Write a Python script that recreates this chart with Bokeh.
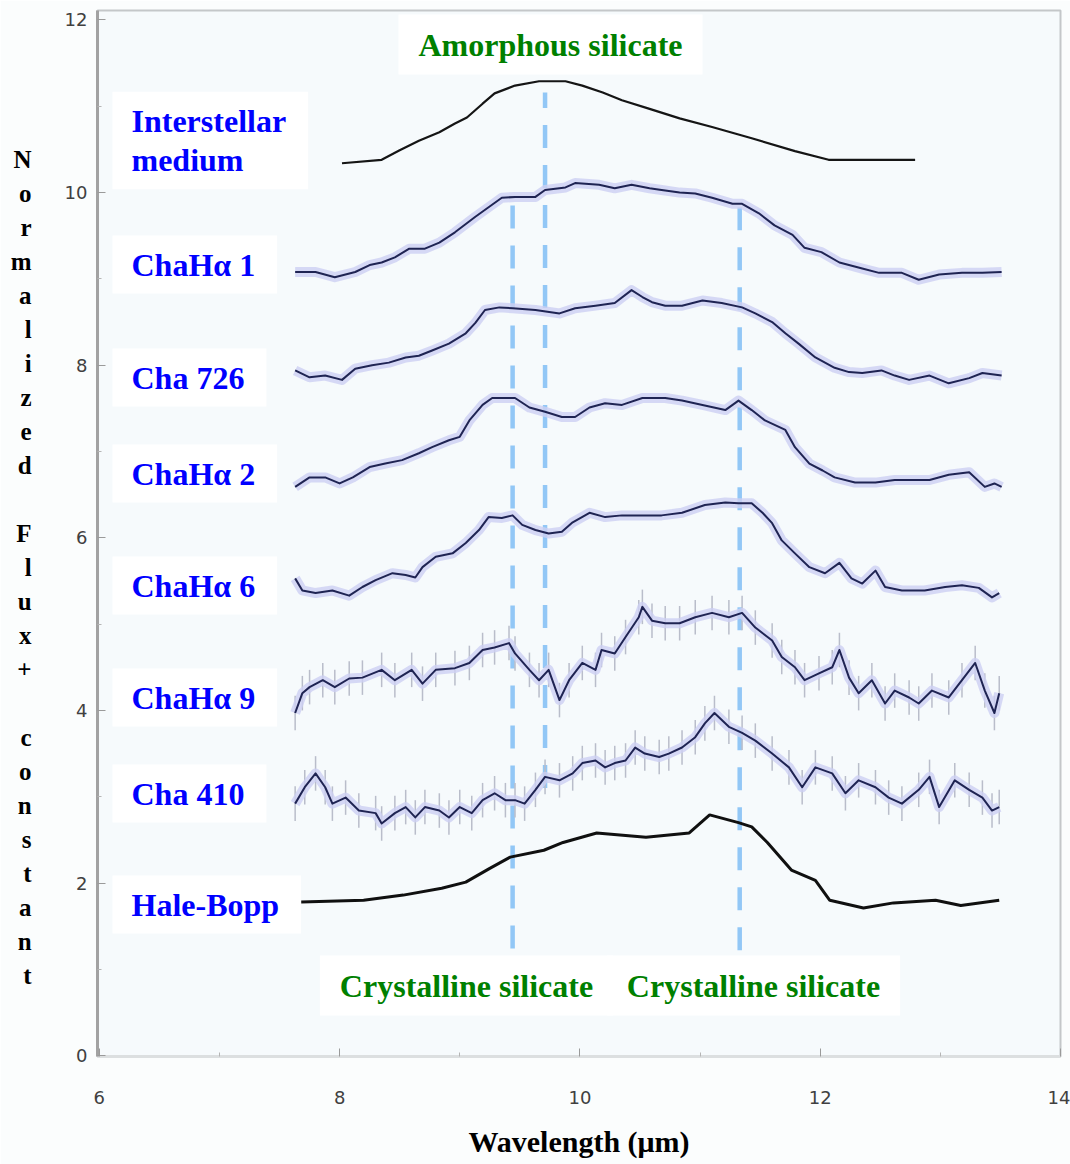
from bokeh.plotting import figure
from bokeh.models import Label, Range1d, FixedTicker
from bokeh.embed import file_html
from bokeh.resources import INLINE
import numpy as np

# ---------------- data ----------------
ism_x = [8.02, 8.35, 8.50, 8.66, 8.83, 8.96, 9.06, 9.19, 9.29, 9.46, 9.66, 9.88, 10.02,
         10.19, 10.35, 10.58, 10.83, 11.10, 11.43, 11.79, 12.07, 12.79]
ism_y = [10.34, 10.38, 10.49, 10.60, 10.70, 10.80, 10.87, 11.03, 11.15, 11.24, 11.29, 11.29,
         11.24, 11.16, 11.07, 10.97, 10.86, 10.76, 10.63, 10.48, 10.38, 10.38]

chaha1_x = [7.63, 7.80, 7.96, 8.13, 8.25, 8.35, 8.46, 8.58, 8.71, 8.83, 8.96, 9.13, 9.24, 9.35,
            9.46, 9.63, 9.71, 9.88, 9.96, 10.16, 10.29, 10.43, 10.58, 10.68, 10.83, 10.96, 11.10,
            11.27, 11.35, 11.49, 11.62, 11.77, 11.87, 12.01, 12.16, 12.35, 12.49, 12.68, 12.82,
            12.99, 13.18, 13.35, 13.51]
chaha1_y = [9.08, 9.08, 9.02, 9.08, 9.16, 9.19, 9.25, 9.35, 9.35, 9.42, 9.54, 9.72, 9.83, 9.94,
            9.95, 9.95, 10.03, 10.06, 10.11, 10.09, 10.05, 10.09, 10.05, 10.03, 10.00, 9.99, 9.94,
            9.87, 9.87, 9.76, 9.62, 9.51, 9.36, 9.31, 9.19, 9.12, 9.07, 9.07, 8.99,
            9.05, 9.07, 9.07, 9.08]

cha726_x = [7.63, 7.75, 7.88, 8.02, 8.13, 8.27, 8.41, 8.55, 8.66, 8.77, 8.91, 9.05, 9.13, 9.21,
            9.33, 9.44, 9.63, 9.83, 9.96, 10.13, 10.29, 10.43, 10.52, 10.60, 10.71, 10.85, 11.02,
            11.18, 11.35, 11.46, 11.60, 11.71, 11.82, 11.96, 12.12, 12.24, 12.35, 12.51, 12.62,
            12.74, 12.91, 13.07, 13.24, 13.35, 13.51]
cha726_y = [7.94, 7.86, 7.88, 7.83, 7.96, 8.00, 8.03, 8.09, 8.11, 8.17, 8.25, 8.37, 8.49, 8.64,
            8.67, 8.66, 8.64, 8.60, 8.66, 8.69, 8.72, 8.87, 8.79, 8.73, 8.69, 8.69, 8.75,
            8.72, 8.67, 8.60, 8.50, 8.37, 8.25, 8.09, 7.97, 7.92, 7.91, 7.94, 7.88,
            7.83, 7.88, 7.79, 7.85, 7.91, 7.88]

chaha2_x = [7.63, 7.75, 7.88, 8.00, 8.11, 8.25, 8.38, 8.52, 8.66, 8.77, 8.91, 9.00, 9.08, 9.19,
            9.27, 9.38, 9.46, 9.58, 9.71, 9.85, 9.96, 10.08, 10.21, 10.35, 10.52, 10.71, 10.85,
            11.02, 11.21, 11.32, 11.43, 11.54, 11.71, 11.79, 11.91, 12.02, 12.12, 12.29, 12.46,
            12.62, 12.76, 12.91, 13.07, 13.24, 13.37, 13.45, 13.51]
chaha2_y = [6.59, 6.70, 6.70, 6.63, 6.70, 6.82, 6.86, 6.90, 6.98, 7.05, 7.13, 7.17, 7.36, 7.54,
            7.62, 7.62, 7.62, 7.51, 7.46, 7.40, 7.40, 7.51, 7.56, 7.54, 7.62, 7.62, 7.59,
            7.54, 7.48, 7.59, 7.48, 7.36, 7.25, 7.05, 6.86, 6.78, 6.70, 6.64, 6.64,
            6.67, 6.67, 6.67, 6.73, 6.76, 6.59, 6.63, 6.59]

chaha6_x = [7.63, 7.69, 7.80, 7.94, 8.08, 8.19, 8.30, 8.44, 8.55, 8.63, 8.69, 8.80, 8.94, 9.05,
            9.16, 9.24, 9.35, 9.44, 9.52, 9.63, 9.74, 9.85, 9.94, 10.08, 10.21, 10.35, 10.52,
            10.68, 10.85, 11.04, 11.21, 11.32, 11.43, 11.52, 11.60, 11.68, 11.79, 11.91, 12.04,
            12.16, 12.26, 12.35, 12.46, 12.54, 12.68, 12.87, 13.04, 13.18, 13.32, 13.43, 13.49]
chaha6_y = [5.53, 5.39, 5.36, 5.39, 5.33, 5.43, 5.51, 5.59, 5.57, 5.54, 5.66, 5.78, 5.82, 5.94,
            6.09, 6.24, 6.23, 6.26, 6.15, 6.09, 6.05, 6.07, 6.18, 6.29, 6.24, 6.26, 6.26,
            6.26, 6.29, 6.38, 6.41, 6.40, 6.40, 6.29, 6.17, 5.97, 5.82, 5.66, 5.59,
            5.71, 5.53, 5.47, 5.62, 5.43, 5.39, 5.39, 5.43, 5.45, 5.42, 5.31, 5.36]

chaha9_x = [7.63, 7.69, 7.75, 7.86, 7.96, 8.08, 8.19, 8.35, 8.46, 8.60, 8.69, 8.80, 8.96, 9.08,
            9.19, 9.29, 9.41, 9.46, 9.58, 9.66, 9.74, 9.83, 9.91, 10.02, 10.13, 10.18, 10.29,
            10.38, 10.49, 10.52, 10.60, 10.71, 10.83, 10.96, 11.10, 11.24, 11.35, 11.46, 11.60,
            11.68, 11.79, 11.87, 11.99, 12.10, 12.16, 12.24, 12.32, 12.43, 12.54, 12.62, 12.74,
            12.82, 12.93, 13.07, 13.18, 13.29, 13.37, 13.45, 13.49]
chaha9_y = [3.97, 4.20, 4.27, 4.35, 4.27, 4.37, 4.38, 4.47, 4.35, 4.47, 4.31, 4.47, 4.49, 4.55,
            4.70, 4.73, 4.78, 4.66, 4.47, 4.35, 4.47, 4.12, 4.35, 4.55, 4.47, 4.70, 4.66,
            4.85, 5.08, 5.20, 5.04, 5.01, 5.01, 5.08, 5.13, 5.08, 5.13, 4.96, 4.81,
            4.62, 4.50, 4.35, 4.43, 4.50, 4.70, 4.38, 4.20, 4.35, 4.08, 4.23, 4.15,
            4.08, 4.23, 4.15, 4.35, 4.55, 4.23, 3.97, 4.20]

cha410_x = [7.63, 7.71, 7.80, 7.88, 7.94, 8.05, 8.16, 8.30, 8.35, 8.46, 8.55, 8.63, 8.71, 8.83,
            8.91, 9.00, 9.10, 9.19, 9.29, 9.38, 9.46, 9.54, 9.63, 9.71, 9.83, 9.94, 10.02,
            10.13, 10.21, 10.29, 10.38, 10.46, 10.54, 10.66, 10.74, 10.85, 10.96, 11.04, 11.12,
            11.24, 11.35, 11.46, 11.60, 11.74, 11.85, 11.96, 12.10, 12.21, 12.32, 12.46, 12.57,
            12.68, 12.82, 12.91, 12.99, 13.12, 13.24, 13.35, 13.43, 13.49]
cha410_y = [2.92, 3.11, 3.27, 3.11, 2.92, 2.99, 2.84, 2.81, 2.69, 2.81, 2.88, 2.76, 2.88, 2.84,
            2.76, 2.88, 2.81, 2.96, 3.04, 2.96, 2.96, 2.92, 3.08, 3.23, 3.19, 3.27, 3.39,
            3.42, 3.34, 3.39, 3.42, 3.57, 3.50, 3.46, 3.50, 3.57, 3.69, 3.85, 3.97,
            3.81, 3.74, 3.65, 3.50, 3.34, 3.11, 3.34, 3.27, 3.04, 3.19, 3.11, 2.99,
            2.92, 3.08, 3.23, 2.88, 3.19, 3.08, 2.99, 2.84, 2.88]

halebopp_x = [7.68, 8.20, 8.53, 8.85, 9.05, 9.25, 9.42, 9.70, 9.86, 10.14, 10.55, 10.91, 11.08,
              11.32, 11.43, 11.56, 11.76, 11.96, 12.08, 12.36, 12.61, 12.96, 13.17, 13.49]
halebopp_y = [1.78, 1.80, 1.86, 1.94, 2.01, 2.17, 2.30, 2.38, 2.47, 2.58, 2.53, 2.58, 2.79,
              2.70, 2.65, 2.47, 2.15, 2.03, 1.80, 1.71, 1.77, 1.80, 1.74, 1.80]

# typical flux uncertainty of the two noisiest spectra
chaha9_err = 0.20
cha410_err = 0.20

# silicate feature wavelengths (um) and the flux span of each marker
feature_x = [9.44, 9.71, 11.33]
feature_y0 = [1.24, 3.10, 1.22]
feature_y1 = [9.88, 11.16, 9.88]

series_names = ["Interstellar\nmedium", "ChaH\u03b1 1", "Cha 726", "ChaH\u03b1 2",
                "ChaH\u03b1 6", "ChaH\u03b1 9", "Cha 410", "Hale-Bopp"]
feature_names = ["Amorphous silicate", "Crystalline silicate", "Crystalline silicate"]
x_ticks = [6, 8, 10, 12, 14]
y_ticks = [0, 2, 4, 6, 8, 10, 12]
x_title = "Wavelength (\u03bcm)"
y_title = "Normalized Flux + constant"

# ---------------- layout ----------------
W, H = 1070, 1164
L, R, T, B = 97, 10, 10, 108
X0, X1 = 5.985, 14.0
Y0, Y1 = -0.01, 12.11


def px_to_x(px):
    return X0 + (px - L) * (X1 - X0) / (W - L - R)


def py_to_y(py):
    return Y0 + (H - B - py) * (Y1 - Y0) / (H - T - B)


p = figure(width=W, height=H, x_range=Range1d(X0, X1), y_range=Range1d(Y0, Y1),
           output_backend="svg", toolbar_location=None,
           min_border_left=L, min_border_right=R, min_border_top=T, min_border_bottom=B,
           background_fill_color="#f6fafc", border_fill_color="#fbfdfd")
p.grid.visible = False
p.outline_line_color = "#c4c7c9"
p.outline_line_width = 2

for ax in (p.xaxis[0], p.yaxis[0]):
    ax.major_tick_in = 8
    ax.major_tick_out = 0
    ax.minor_tick_in = 4
    ax.minor_tick_out = 0
    ax.major_tick_line_color = "#9a9a9a"
    ax.minor_tick_line_color = "#b5b5b5"
    ax.major_label_text_font = "DejaVu Sans"
    ax.major_label_text_font_size = "18px"
    ax.major_label_text_color = "#404040"

p.xaxis.ticker = FixedTicker(ticks=x_ticks, minor_ticks=[7, 9, 11, 13])
p.yaxis.ticker = FixedTicker(ticks=y_ticks, minor_ticks=[1, 3, 5, 7, 9, 11])
p.xaxis.axis_line_color = "#dcdfe0"
p.xaxis.axis_line_width = 3
p.yaxis.axis_line_color = "#a2a2a2"
p.yaxis.axis_line_width = 3
p.xaxis.major_label_standoff = 34
p.yaxis.major_label_standoff = 10

p.xaxis.axis_label = x_title
p.xaxis.axis_label_text_font = "Liberation Serif"
p.xaxis.axis_label_text_font_style = "bold"
p.xaxis.axis_label_text_font_size = "30px"
p.xaxis.axis_label_text_color = "black"
p.xaxis.axis_label_standoff = 18

# stacked y title: one character per line, a blank line between words
rows = [" ", " "]
for i, word in enumerate(y_title.split(" ")):
    if i > 0 and word != "+":
        rows.append(" ")
    rows.extend(list(word))
p.yaxis.axis_label = "\n".join(rows)
p.yaxis.axis_label_orientation = "horizontal"
p.yaxis.axis_label_text_font = "Liberation Serif"
p.yaxis.axis_label_text_font_style = "bold"
p.yaxis.axis_label_text_font_size = "25px"
p.yaxis.axis_label_text_line_height = 1.26
p.yaxis.axis_label_text_color = "black"
p.yaxis.axis_label_text_align = "center"
p.yaxis.axis_label_standoff = 30

# ---------------- feature markers ----------------
p.segment(feature_x, feature_y0, feature_x, feature_y1, line_color="#92c7f6",
          line_width=4.5, line_dash="23 17")

# ---------------- spectra ----------------
for xs, ys, err in ((chaha9_x, chaha9_y, chaha9_err), (cha410_x, cha410_y, cha410_err)):
    ya = np.array(ys)
    p.segment(xs, ya - err, xs, ya + err, line_color="#b9bdca", line_width=1.5)

spitzer = [(chaha1_x, chaha1_y), (cha726_x, cha726_y), (chaha2_x, chaha2_y),
           (chaha6_x, chaha6_y), (chaha9_x, chaha9_y), (cha410_x, cha410_y)]
for xs, ys in spitzer:
    p.line(xs, ys, line_width=10, line_color="#cdd0f3", line_alpha=0.8, line_join="round")
for xs, ys in spitzer:
    p.line(xs, ys, line_width=2, line_color="#1f2453", line_join="round")

p.line(ism_x, ism_y, line_width=2.2, line_color="#151515")
p.line(halebopp_x, halebopp_y, line_width=3, line_color="#101010")

# ---------------- labels ----------------
label_py = [140, 264, 377, 473, 585, 697, 793, 904]
for name, py in zip(series_names, label_py):
    p.add_layout(Label(x=px_to_x(112), y=py_to_y(py), text=name,
                       text_font="Liberation Serif", text_font_style="bold",
                       text_font_size="32px", text_color="#0000ff",
                       text_align="left", text_baseline="middle", text_line_height=1.1,
                       background_fill_color="white",
                       padding=dict(left=19, right=22, top=11, bottom=11)))

feature_label_pos = [(550, 44), (466, 985), (753, 985)]
for name, (px, py) in zip(feature_names, feature_label_pos):
    p.add_layout(Label(x=px_to_x(px), y=py_to_y(py), text=name,
                       text_font="Liberation Serif", text_font_style="bold",
                       text_font_size="32px", text_color="#008000",
                       text_align="center", text_baseline="middle",
                       background_fill_color="white",
                       padding=dict(left=20, right=20, top=12, bottom=12)))

open("out.html", "w").write(file_html(p, INLINE))
